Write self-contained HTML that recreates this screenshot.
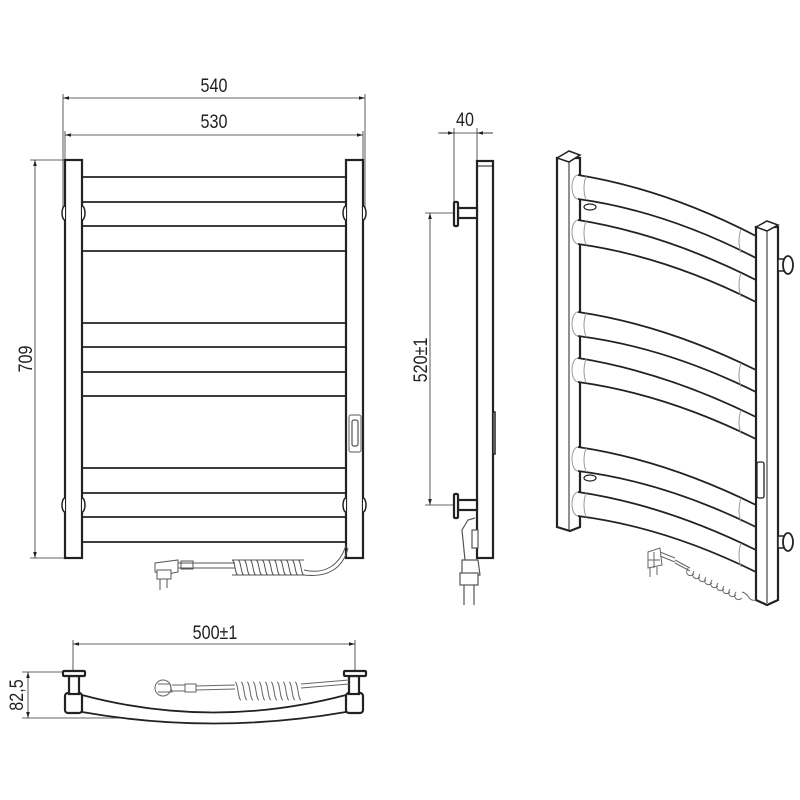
<!DOCTYPE html>
<html><head><meta charset="utf-8"><style>html,body{margin:0;padding:0;background:#fff}svg{display:block}text{font-family:"Liberation Sans",sans-serif;font-size:19px;fill:#222}</style></head>
<body>
<svg width="800" height="800" viewBox="0 0 800 800" xmlns="http://www.w3.org/2000/svg">
<defs>
<marker id="a" viewBox="0 0 10 10" refX="10" refY="5" markerWidth="14" markerHeight="6" orient="auto-start-reverse" markerUnits="userSpaceOnUse"><path d="M0,2 L10,5 L0,8 Z" fill="#222"/></marker>
</defs>
<g fill="none" stroke="#333" stroke-width="0.8">
<line x1="63" y1="98" x2="365" y2="98" marker-start="url(#a)" marker-end="url(#a)"/>
<line x1="65" y1="135" x2="363" y2="135" marker-start="url(#a)" marker-end="url(#a)"/>
<line x1="63" y1="94" x2="63" y2="215"/><line x1="365" y1="94" x2="365" y2="215"/>
<line x1="65" y1="131" x2="65" y2="160"/><line x1="363" y1="131" x2="363" y2="160"/>
<line x1="35" y1="160" x2="35" y2="558" marker-start="url(#a)" marker-end="url(#a)"/>
<line x1="30" y1="160" x2="65" y2="160"/><line x1="30" y1="558" x2="65" y2="558"/>
<line x1="438" y1="133" x2="493" y2="133"/>
<path d="M440,133 L454,133" marker-end="url(#a)"/><path d="M493,133 L477,133" marker-end="url(#a)"/>
<line x1="454" y1="128" x2="454" y2="205"/><line x1="477" y1="128" x2="477" y2="161"/>
<line x1="430" y1="213" x2="430" y2="505" marker-start="url(#a)" marker-end="url(#a)"/>
<line x1="425" y1="213" x2="456" y2="213"/><line x1="425" y1="505" x2="456" y2="505"/>
<line x1="73" y1="644" x2="355" y2="644" marker-start="url(#a)" marker-end="url(#a)"/>
<line x1="73" y1="640" x2="73" y2="672"/><line x1="355" y1="640" x2="355" y2="672"/>
<line x1="28" y1="672" x2="28" y2="718" marker-start="url(#a)" marker-end="url(#a)"/>
<line x1="22" y1="672" x2="65" y2="672"/><line x1="22" y1="718" x2="150" y2="718"/>
</g>
<g>
<text transform="translate(214,92) scale(0.85,1)" text-anchor="middle">540</text>
<text transform="translate(214,128) scale(0.85,1)" text-anchor="middle">530</text>
<text transform="translate(32,359) rotate(-90) scale(0.85,1)" text-anchor="middle">709</text>
<text transform="translate(465,126) scale(0.85,1)" text-anchor="middle">40</text>
<text transform="translate(427,360) rotate(-90) scale(0.85,1)" text-anchor="middle">520±1</text>
<text transform="translate(215,639) scale(0.85,1)" text-anchor="middle">500±1</text>
<text transform="translate(23,695) rotate(-90) scale(0.85,1)" text-anchor="middle">82,5</text>
</g>

<g fill="#fff" stroke="#222" stroke-width="2.2">
<rect x="65" y="160" width="17" height="398"/>
<rect x="346" y="160" width="17" height="398"/>
<g stroke-width="1.8">
<line x1="82" y1="177" x2="346" y2="177"/><line x1="82" y1="202" x2="346" y2="202"/>
<line x1="82" y1="226" x2="346" y2="226"/><line x1="82" y1="251" x2="346" y2="251"/>
<line x1="82" y1="323" x2="346" y2="323"/><line x1="82" y1="347" x2="346" y2="347"/>
<line x1="82" y1="372" x2="346" y2="372"/><line x1="82" y1="396" x2="346" y2="396"/>
<line x1="82" y1="468" x2="346" y2="468"/><line x1="82" y1="493" x2="346" y2="493"/>
<line x1="82" y1="517" x2="346" y2="517"/><line x1="82" y1="542" x2="346" y2="542"/>
</g>
<g stroke-width="1.5">
<path d="M65,206 A3,7 0 0 0 65,220"/><path d="M82,206 A3,7 0 0 1 82,220"/>
<path d="M346,206 A3,7 0 0 0 346,220"/><path d="M363,206 A3,7 0 0 1 363,220"/>
<path d="M65,498 A3,7 0 0 0 65,512"/><path d="M82,498 A3,7 0 0 1 82,512"/>
<path d="M346,498 A3,7 0 0 0 346,512"/><path d="M363,498 A3,7 0 0 1 363,512"/>
</g>
<rect x="349" y="415" width="12" height="37" rx="2" stroke="#777" stroke-width="1.2"/>
<rect x="352" y="420" width="6" height="26" rx="2" stroke="#555" stroke-width="1.2"/>
<g stroke="#555" stroke-width="1" fill="none">
<path d="M178,563 L235,563 M178,568 L235,568"/>
<path d="M155,563 L178,560 L178,572 L168,574 L155,572 Z" fill="#fff"/>
<rect x="157" y="570" width="14" height="9" fill="#fff"/>
<line x1="160" y1="579" x2="160" y2="590"/><line x1="167" y1="579" x2="167" y2="588"/>
<path d="M181,561 h12 v8 h-12 Z"/>
<path d="M232,560 c3,0 3,15 6,15 M238,560 c3,0 3,15 6,15 M244,560 c3,0 3,15 6,15 M250,560 c3,0 3,15 6,15 M256,560 c3,0 3,15 6,15 M262,560 c3,0 3,15 6,15 M268,560 c3,0 3,15 6,15 M274,560 c3,0 3,15 6,15 M280,560 c3,0 3,15 6,15 M286,560 c3,0 3,15 6,15 M292,560 c3,0 3,15 6,15 M298,560 c3,0 3,15 6,15"/>
<path d="M232,560 h72 M232,575 h72"/>
<path d="M304,570 C325,575 340,565 346,545 M304,575 C328,578 343,568 348,548"/>
</g>

<rect x="477" y="161" width="16" height="397"/>
<line x1="477" y1="166" x2="493" y2="166" stroke-width="1"/>
<rect x="458" y="208" width="19" height="10"/>
<rect x="454" y="202" width="4" height="24" rx="1"/>
<rect x="458" y="500" width="19" height="10"/>
<rect x="454" y="494" width="4" height="24" rx="1"/>
<rect x="493" y="412" width="2" height="42" stroke-width="1.5"/>
<g stroke="#555" stroke-width="1.2">
<path d="M475,518 L468,520 L462,530 L465,560 L478,562" fill="none"/>
<rect x="472" y="530" width="6" height="18"/>
<path d="M462,560 L478,560 L480,575 L462,578 Z"/>
<rect x="460" y="573" width="18" height="12"/>
<line x1="464" y1="585" x2="464" y2="605"/><line x1="474" y1="585" x2="474" y2="605"/>
</g>

<path d="M557,158 L557,527 L570,531 L580,527 L580,158 Z"/>
<path d="M557,158 L569,151 L580,155 L569,162 Z" stroke-width="1.5"/>
<line x1="569" y1="162" x2="569" y2="530" stroke-width="1"/>
<g stroke-width="1.8">
<path d="M578,175 Q665,189 756,236 L756,258 Q665,211 578,199"/>
<path d="M578,220 Q665,234 756,280 L756,302 Q665,256 578,244"/>
<path d="M578,312 Q665,325 756,370 L756,392 Q665,347 578,336"/>
<path d="M578,358 Q665,372 756,417 L756,439 Q665,394 578,382"/>
<path d="M578,447 Q665,460 756,505 L756,527 Q665,482 578,471"/>
<path d="M578,492 Q665,505 756,550 L756,572 Q665,527 578,516"/>
</g>
<g stroke="#999" stroke-width="1" fill="none">
<path d="M578,175 a6,12 0 0 0 0,24 M578,220 a6,12 0 0 0 0,24 M578,312 a6,12 0 0 0 0,24 M578,358 a6,12 0 0 0 0,24 M578,447 a6,12 0 0 0 0,24 M578,492 a6,12 0 0 0 0,24"/>
<path d="M586,176 q-4,12 0,24 M586,221 q-4,12 0,24 M586,313 q-4,12 0,24 M586,359 q-4,12 0,24 M586,448 q-4,12 0,24 M586,493 q-4,12 0,24"/>
<path d="M741,229 q-4,12 0,24 M741,273 q-4,12 0,24 M741,363 q-4,12 0,24 M741,410 q-4,12 0,24 M741,498 q-4,12 0,24 M741,543 q-4,12 0,24"/>
</g>
<ellipse cx="590" cy="207" rx="6" ry="3" stroke-width="1.2"/>
<ellipse cx="590" cy="478" rx="6" ry="3" stroke-width="1.2"/>
<path d="M756,227 L756,600 L767,605 L778,600 L778,227 Z"/>
<path d="M756,227 L767,221 L778,225 L767,231 Z" stroke-width="1.5"/>
<line x1="767" y1="231" x2="767" y2="603" stroke-width="1"/>
<rect x="757" y="462" width="7" height="36" rx="2" stroke-width="1.3"/>
<rect x="778" y="259" width="10" height="12" stroke-width="1.5"/>
<ellipse cx="788" cy="265" rx="5" ry="9" stroke-width="1.8"/>
<rect x="778" y="536" width="10" height="12" stroke-width="1.5"/>
<ellipse cx="788" cy="542" rx="5" ry="9" stroke-width="1.8"/>
<g stroke="#666" stroke-width="1" fill="none">
<path d="M648,552 L660,548 L662,565 L648,568 Z M648,560 h12 M654,552 v16"/>
<line x1="650" y1="568" x2="650" y2="577"/><line x1="657" y1="567" x2="657" y2="575"/>
<path d="M660,552 L675,558 M660,556 L675,562"/>
<path d="M675,560 L690,568 M675,563 L690,571"/>
<path d="M688,568 c-4,6 2,10 6,6 M694,571 c-4,6 2,10 6,6 M700,574 c-4,6 2,10 6,6 M706,577 c-4,6 2,10 6,6 M712,580 c-4,6 2,10 6,6 M718,583 c-4,6 2,10 6,6 M724,586 c-4,6 2,10 6,6 M730,589 c-4,6 2,10 6,6 M736,592 c-4,6 2,10 6,6"/>
<path d="M742,592 c8,2 6,10 14,8"/>
</g>

<path d="M82,695 Q213,730 346,695 L346,712 Q213,735 82,712 Z" stroke-width="1.8"/>
<rect x="65" y="693" width="17" height="20" rx="3"/>
<rect x="69" y="676" width="10" height="18"/>
<rect x="63" y="671" width="22" height="5" rx="1"/>
<rect x="346" y="693" width="17" height="20" rx="3"/>
<rect x="349" y="676" width="10" height="18"/>
<rect x="344" y="671" width="22" height="5" rx="1"/>
<g stroke="#666" stroke-width="1" fill="none">
<circle cx="163" cy="688" r="8"/>
<path d="M158,684 L170,684 L172,692 L158,692"/>
<path d="M172,685 L185,685 M172,691 L185,691"/>
<rect x="185" y="684" width="11" height="8"/>
<path d="M196,686 L235,685 M196,690 L235,689"/>
<path d="M235,682 c3,0 3,18 6,18 M241,682 c3,0 3,18 6,18 M247,682 c3,0 3,18 6,18 M253,682 c3,0 3,18 6,18 M259,682 c3,0 3,18 6,18 M265,682 c3,0 3,18 6,18 M271,682 c3,0 3,18 6,18 M277,682 c3,0 3,18 6,18 M283,682 c3,0 3,18 6,18 M289,682 c3,0 3,18 6,18 M295,682 c3,0 3,18 6,18"/>
<path d="M301,684 L349,680 M301,688 L349,684"/>
</g>
</g>
</svg>
</body></html>
